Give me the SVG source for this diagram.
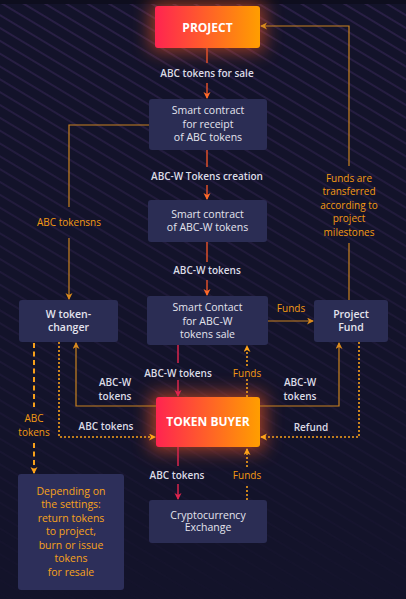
<svg xmlns="http://www.w3.org/2000/svg" width="406" height="599" viewBox="0 0 406 599">
<style>
text{font-family:"Open Sans","Noto Sans","Liberation Sans",sans-serif;text-anchor:middle}
.node{fill:#2b2d54}
.nt{fill:#e4e4ee;font-size:10.5px}
.lbl{fill:#dcdce6;font-size:10px;font-weight:600}
.olbl{fill:#f39a12;font-size:10px;font-weight:500}
.ont{fill:#f7a21a;font-size:10.5px;font-weight:500}
.hot{font-size:12px;font-weight:700;fill:#fff}
.ln{fill:none}
.so{stroke:#c98220;stroke-width:1.2}
.rd{stroke:#dd4f2a;stroke-width:1.5}
.cr{stroke:#d8264e;stroke-width:1.5}
.dt{stroke:#f7a01a;stroke-width:1.6;stroke-dasharray:2 2}
.ds{stroke:#f7a01a;stroke-width:2;stroke-dasharray:5 3.5}
</style>
<defs>
<linearGradient id="hotg" x1="0" y1="0" x2="1" y2="0">
<stop offset="0" stop-color="#ff2450"/>
<stop offset="1" stop-color="#ff9e00"/>
</linearGradient>
<linearGradient id="fade" x1="0" y1="0" x2="0" y2="1">
<stop offset="0" stop-color="#fff" stop-opacity="1"/>
<stop offset="0.55" stop-color="#fff" stop-opacity="0.45"/>
<stop offset="1" stop-color="#fff" stop-opacity="0.05"/>
</linearGradient>
<mask id="fm"><rect width="406" height="599" fill="url(#fade)"/></mask>
<pattern id="stripes" patternUnits="userSpaceOnUse" width="20" height="11" patternTransform="rotate(31)">
<line x1="0" y1="2" x2="20" y2="2" stroke="#2a2046" stroke-width="2"/>
</pattern>
<filter id="glow" x="-50%" y="-80%" width="200%" height="260%">
<feGaussianBlur stdDeviation="9"/>
</filter>
<marker id="ao" markerUnits="userSpaceOnUse" markerWidth="8" markerHeight="8" refX="6" refY="3.5" orient="auto">
<path d="M0,0 L7,3.5 L0,7 L2,3.5 z" fill="#d98a1e"/>
</marker>
<marker id="ay" markerUnits="userSpaceOnUse" markerWidth="8" markerHeight="8" refX="6" refY="3.5" orient="auto">
<path d="M0,0 L7,3.5 L0,7 L2,3.5 z" fill="#ffa31a"/>
</marker>
<marker id="ar" markerUnits="userSpaceOnUse" markerWidth="8" markerHeight="8" refX="6" refY="3.5" orient="auto">
<path d="M0,0 L7,3.5 L0,7 L2,3.5 z" fill="#ff6a2a"/>
</marker>
<marker id="ac" markerUnits="userSpaceOnUse" markerWidth="8" markerHeight="8" refX="6" refY="3.5" orient="auto">
<path d="M0,0 L7,3.5 L0,7 L2,3.5 z" fill="#e0244e"/>
</marker>
</defs>
<rect width="406" height="599" fill="#13132a"/>
<rect y="0" width="406" height="4" fill="#0e0e1e"/>
<rect y="4" width="406" height="595" fill="url(#stripes)" mask="url(#fm)"/>
<rect x="150" y="2" width="115" height="50" rx="6" fill="#ff5a20" opacity="0.55" filter="url(#glow)"/>
<rect x="150" y="393" width="115" height="58" rx="6" fill="#ff5a20" opacity="0.6" filter="url(#glow)"/>

<g id="connectors">
<path class="ln rd" d="M207,48 V63"/>
<path class="ln rd" d="M207,83 V98" marker-end="url(#ar)"/>
<text class="lbl" x="207" y="76.5">ABC tokens for sale</text>
<path class="ln rd" d="M207,150 V167"/>
<path class="ln rd" d="M207,185 V199" marker-end="url(#ar)"/>
<text class="lbl" x="207" y="179.5">ABC-W Tokens creation</text>
<path class="ln rd" d="M207,242 V262"/>
<path class="ln rd" d="M207,280 V295" marker-end="url(#ar)"/>
<text class="lbl" x="207" y="273.5">ABC-W tokens</text>

<path class="ln so" d="M149,125 H69 V207"/>
<path class="ln so" d="M69,238 V299" marker-end="url(#ao)"/>
<text class="olbl" x="69" y="225.5">ABC tokensns</text>

<path class="ln so" d="M349,300 V243"/>
<path class="ln so" d="M349,166 V26 H261" marker-end="url(#ao)"/>
<text class="olbl" x="349" y="181.5">Funds are</text>
<text class="olbl" x="349" y="195">transferred</text>
<text class="olbl" x="349" y="208.5">according to</text>
<text class="olbl" x="349" y="222">project</text>
<text class="olbl" x="349" y="235.5">milestones</text>

<path class="ln so" d="M268,321 H313" marker-end="url(#ao)"/>
<text class="olbl" x="291" y="311.5">Funds</text>

<path class="ln cr" d="M178,345 V363"/>
<path class="ln cr" d="M178,380 V396" marker-end="url(#ac)"/>
<text class="lbl" x="178" y="376.5">ABC-W tokens</text>

<path class="ln dt" d="M247,397 V379"/>
<path class="ln dt" d="M247,366 V346" marker-end="url(#ay)"/>
<text class="olbl" x="247" y="376.5">Funds</text>

<path class="ln so" d="M156,406 H76 V343" marker-end="url(#ao)"/>
<text class="lbl" x="115" y="386">ABC-W</text>
<text class="lbl" x="115" y="399.5">tokens</text>
<path class="ln so" d="M260,406 H339 V343" marker-end="url(#ao)"/>
<text class="lbl" x="300" y="386">ABC-W</text>
<text class="lbl" x="300" y="399.5">tokens</text>

<path class="ln dt" d="M59,342 V437 H155" marker-end="url(#ay)"/>
<text class="lbl" x="106" y="429.5">ABC tokens</text>
<path class="ln dt" d="M359,342 V437 H261" marker-end="url(#ay)"/>
<text class="lbl" x="311" y="430.5">Refund</text>

<path class="ln ds" d="M34,343 V407"/>
<path class="ln ds" d="M34,443 V473" marker-end="url(#ay)"/>
<text class="olbl" x="34" y="422">ABC</text>
<text class="olbl" x="34" y="435.5">tokens</text>

<path class="ln cr" d="M178,447 V466"/>
<path class="ln cr" d="M178,484 V499" marker-end="url(#ac)"/>
<text class="lbl" x="177" y="478.5">ABC tokens</text>
<path class="ln dt" d="M247,500 V484"/>
<path class="ln dt" d="M247,467 V449" marker-end="url(#ay)"/>
<text class="olbl" x="247" y="478.5">Funds</text>
</g>

<g id="project">
<rect x="155" y="6" width="105" height="42" rx="3" fill="url(#hotg)"/>
<text class="hot" x="207.5" y="31.5">PROJECT</text>
</g>
<g id="sc-receipt">
<rect class="node" x="149" y="99" width="118" height="51" rx="3"/>
<text class="nt" x="208" y="114">Smart contract</text>
<text class="nt" x="208" y="127.5">for receipt</text>
<text class="nt" x="208" y="141">of ABC tokens</text>
</g>
<g id="sc-abcw">
<rect class="node" x="148" y="200" width="119" height="42" rx="3"/>
<text class="nt" x="207.5" y="217.5">Smart contract</text>
<text class="nt" x="207.5" y="231">of ABC-W tokens</text>
</g>
<g id="sc-sale">
<rect class="node" x="147" y="296" width="121" height="49" rx="3"/>
<text class="nt" x="207.5" y="311">Smart Contact</text>
<text class="nt" x="207.5" y="324.5">for ABC-W</text>
<text class="nt" x="207.5" y="338">tokens sale</text>
</g>
<g id="w-changer">
<rect class="node" x="19" y="300" width="99" height="42" rx="3"/>
<text class="nt" x="68.5" y="317.5" font-weight="600">W token-</text>
<text class="nt" x="68.5" y="331" font-weight="600">changer</text>
</g>
<g id="project-fund">
<rect class="node" x="314" y="300" width="74" height="42" rx="3"/>
<text class="nt" x="351" y="317.5" font-weight="600">Project</text>
<text class="nt" x="351" y="331" font-weight="600">Fund</text>
</g>
<g id="token-buyer">
<rect x="156" y="397" width="104" height="50" rx="3" fill="url(#hotg)"/>
<text class="hot" x="208" y="426">TOKEN BUYER</text>
</g>
<g id="settings">
<rect x="18" y="474" width="106" height="116" rx="3" fill="#2d2f5a"/>
<text class="ont" x="71" y="494.5">Depending on</text>
<text class="ont" x="71" y="508">the settings:</text>
<text class="ont" x="71" y="521.5">return tokens</text>
<text class="ont" x="71" y="535">to project,</text>
<text class="ont" x="71" y="548.5">burn or issue</text>
<text class="ont" x="71" y="562">tokens</text>
<text class="ont" x="71" y="575.5">for resale</text>
</g>
<g id="exchange">
<rect class="node" x="149" y="500" width="118" height="43" rx="3"/>
<text class="nt" x="208" y="518.5">Cryptocurrency</text>
<text class="nt" x="208" y="531">Exchange</text>
</g>
</svg>
